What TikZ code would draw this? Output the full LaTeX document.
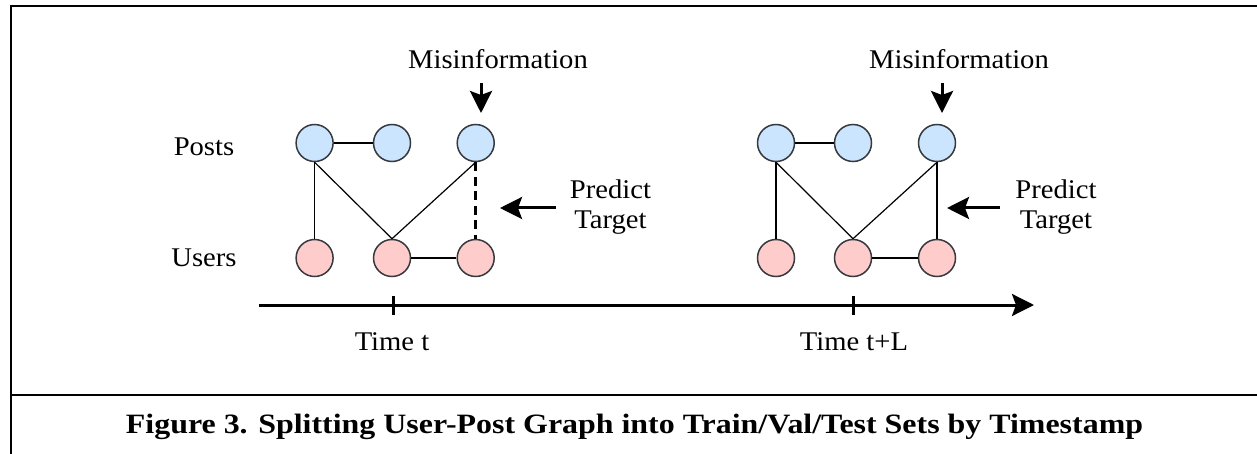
\documentclass[tikz,border=0pt]{standalone}
\usepackage{fontspec}
\setmainfont{Liberation Serif}
\usetikzlibrary{arrows.meta}
\definecolor{postfill}{HTML}{CCE5FF}
\definecolor{userfill}{HTML}{FFCCCC}
\definecolor{nodestroke}{HTML}{36393D}
\newcommand\wtext[1]{\scalebox{1.06}[1]{#1}}
\begin{document}
\begin{tikzpicture}[x=1pt,y=-1pt,
  post/.style={circle,draw=nodestroke,fill=postfill,line width=1.5pt,minimum size=37pt,inner sep=0pt},
  user/.style={circle,draw=nodestroke,fill=userfill,line width=1.5pt,minimum size=37pt,inner sep=0pt},
  lbl/.style={font=\fontsize{27}{30}\selectfont,inner sep=0pt},
  edge/.style={line width=1.2pt,black},
  bigarrow/.style={line width=3pt,-{Stealth[length=22pt,width=22pt,inset=4pt]}},
  frame/.style={line width=2pt,black}
]
\useasboundingbox (0,0) rectangle (1257,454);
% frame
\draw[frame] (10.5,454) -- (10.5,6) -- (1257,6);
\draw[frame] (10.5,395) -- (1257,395);

% row labels
\node[lbl] (posts) at (204,147) {\wtext{Posts}};
\node[lbl] (users) at (204,258) {\wtext{Users}};

% left graph
\node[post] (a1) at (314.6,143) {};
\node[post] (a2) at (392,143) {};
\node[post] (a3) at (475.7,143) {};
\node[user] (b1) at (314.6,258) {};
\node[user] (b2) at (392,258) {};
\node[user] (b3) at (475.7,258) {};
\draw[edge] (a1) -- (a2);
\draw[edge] (b2) -- (b3);
\draw[edge] (a1.south) -- (b1.north);
\draw[edge] (a1.south) -- (b2.north);
\draw[edge] (a3.south) -- (b2.north);
\draw[line width=3pt,dash pattern=on 9pt off 5.5pt] (a3.south) -- (b3.north);

% right graph
\node[post] (c1) at (776,143) {};
\node[post] (c2) at (853,143) {};
\node[post] (c3) at (937,143) {};
\node[user] (d1) at (776,258) {};
\node[user] (d2) at (853,258) {};
\node[user] (d3) at (937,258) {};
\draw[edge] (c1) -- (c2);
\draw[edge] (d2) -- (d3);
\draw[edge] (c1.south) -- (d1.north);
\draw[edge] (c1.south) -- (d2.north);
\draw[edge] (c3.south) -- (d2.north);
\draw[line width=2.5pt] (c3.south) -- (d3.north);

% misinformation labels and arrows
\node[lbl] (mis1) at (498,59) {\wtext{Misinformation}};
\node[lbl] (mis2) at (959,59) {\wtext{Misinformation}};
\coordinate (m1s) at (481,83);
\coordinate (m1e) at (481,113);
\coordinate (m2s) at (942,83);
\coordinate (m2e) at (942,113);
\draw[bigarrow] (m1s) -- (m1e);
\draw[bigarrow] (m2s) -- (m2e);

% predict target
\node[lbl] (pt1) at (610.5,208) {\wtext{\begin{tabular}{@{}c@{}}Predict\\Target\end{tabular}}};
\node[lbl] (pt2) at (1056,208) {\wtext{\begin{tabular}{@{}c@{}}Predict\\Target\end{tabular}}};
\coordinate (p1s) at (556,208);
\coordinate (p1e) at (500,208);
\coordinate (p2s) at (1000,208);
\coordinate (p2e) at (947,208);
\draw[bigarrow] (p1s) -- (p1e);
\draw[bigarrow] (p2s) -- (p2e);

% time axis
\coordinate (ax0) at (259,305);
\coordinate (ax1) at (1034,305);
\draw[line width=3pt,-{Stealth[length=22pt,width=22pt,inset=4pt]}] (ax0) -- (ax1);
\coordinate (t1a) at (393,296);
\coordinate (t1b) at (393,315);
\coordinate (t2a) at (853,296);
\coordinate (t2b) at (853,315);
\draw[line width=3pt] (t1a) -- (t1b);
\draw[line width=3pt] (t2a) -- (t2b);
\node[lbl] (time1) at (392,342) {\wtext{Time t}};
\node[lbl] (time2) at (854,342) {\wtext{Time t+L}};

% caption
\node[font=\fontsize{28}{32}\selectfont\bfseries,inner sep=0pt] (cap) at (634.5,427) {\scalebox{1.14}[1]{Figure 3. Splitting User-Post Graph into Train/Val/Test Sets by Timestamp}};
\end{tikzpicture}
\end{document}
